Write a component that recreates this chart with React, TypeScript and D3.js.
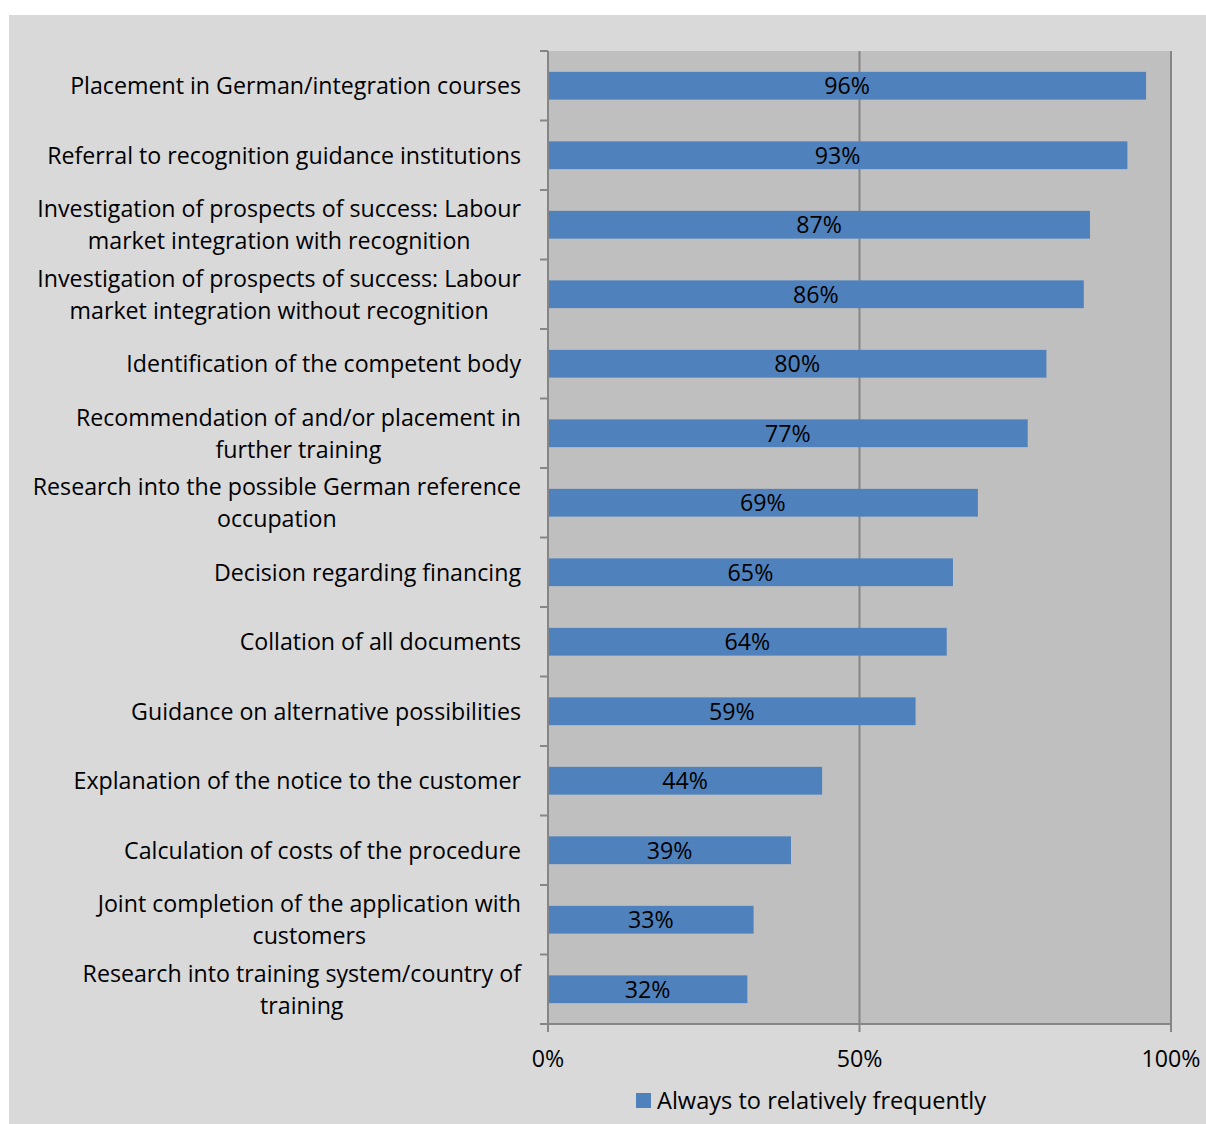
import React from "react";
import * as d3 from "d3";

const categories: string[][] = [
  ["Placement in German/integration courses"],
  ["Referral to recognition guidance institutions"],
  ["Investigation of prospects of success: Labour", "market integration with recognition"],
  ["Investigation of prospects of success: Labour", "market integration without recognition"],
  ["Identification of the competent body"],
  ["Recommendation of and/or placement in", "further training"],
  ["Research into the possible German reference", "occupation"],
  ["Decision regarding financing"],
  ["Collation of all documents"],
  ["Guidance on alternative possibilities"],
  ["Explanation of the notice to the customer"],
  ["Calculation of costs of the procedure"],
  ["Joint completion of the application with", "customers"],
  ["Research into training system/country of", "training"],
];
const values: number[] = [96, 93, 87, 86, 80, 77, 69, 65, 64, 59, 44, 39, 33, 32];
const xTicks: number[] = [0, 50, 100];
const seriesName = "Always to relatively frequently";

const W = 1206;
const H = 1124;
const FONT = "Open Sans, sans-serif";
const FS = 23.2;
const FS_LEG = 23.6;

let ctx: CanvasRenderingContext2D | null = null;
function measure(s: string): number {
  if (!ctx) ctx = document.createElement("canvas").getContext("2d");
  if (!ctx) return s.length * 11;
  ctx.font = `${FS}px "Open Sans"`;
  return ctx.measureText(s).width;
}

export default function App() {
  const plotL = 548, plotR = 1171, plotT = 51, plotB = 1024;
  const x = d3.scaleLinear().domain([0, 100]).range([plotL, plotR]);
  const idx = d3.range(categories.length).map(String);
  const y = d3.scaleBand().domain(idx).range([plotT, plotB]).paddingInner(0.6).paddingOuter(0.3);
  const band = (plotB - plotT) / categories.length;
  const axisColor = "#868686";
  const barColor = "#4f81bd";
  const labelRight = 521;
  return (
    <svg width={W} height={H} style={{ position: "absolute", left: 0, top: 0 }}>
      <rect x={0} y={0} width={W} height={H} fill="#ffffff" />
      <rect x={9} y={15} width={W - 9} height={H - 15} fill="#d9d9d9" />
      <rect x={plotL} y={plotT} width={plotR - plotL} height={plotB - plotT} fill="#bfbfbf" />
      {xTicks.slice(1).map((t) => (
        <line key={t} x1={x(t)} x2={x(t)} y1={plotT} y2={plotB} stroke={axisColor} strokeWidth={2} />
      ))}
      {values.map((v, i) => (
        <rect key={i} x={x(0)} y={y(String(i))} width={x(v) - x(0)} height={y.bandwidth()} fill={barColor} />
      ))}
      {values.map((v, i) => (
        <text
          key={"v" + i}
          x={(x(0) + x(v)) / 2}
          y={(y(String(i)) as number) + y.bandwidth() / 2}
          dy="0.36em"
          textAnchor="middle"
          fontFamily={FONT}
          fontSize={FS}
          fill="#000"
        >
          {v}%
        </text>
      ))}
      {/* left axis */}
      <line x1={plotL} x2={plotL} y1={plotT} y2={plotB + 8} stroke={axisColor} strokeWidth={2} />
      {d3.range(categories.length + 1).map((k) => (
        <line key={"lt" + k} x1={plotL - 8} x2={plotL} y1={plotT + k * band} y2={plotT + k * band} stroke={axisColor} strokeWidth={2} />
      ))}
      {/* bottom axis */}
      <line x1={plotL - 8} x2={plotR} y1={plotB} y2={plotB} stroke={axisColor} strokeWidth={2} />
      {xTicks.map((t) => (
        <g key={"bt" + t}>
          <line x1={x(t)} x2={x(t)} y1={plotB} y2={plotB + 8} stroke={axisColor} strokeWidth={2} />
          <text x={x(t)} y={1059} dy="0.36em" textAnchor="middle" fontFamily={FONT} fontSize={FS} fill="#000">
            {t}%
          </text>
        </g>
      ))}
      {categories.map((lines, i) => {
        const cy = plotT + (i + 0.5) * band;
        const lh = 32;
        const y0 = cy - ((lines.length - 1) * lh) / 2;
        const maxW = Math.max(...lines.map(measure));
        const cx = labelRight - maxW / 2;
        return (
          <text key={"c" + i} textAnchor="middle" fontFamily={FONT} fontSize={FS} fill="#000">
            {lines.map((ln, j) => (
              <tspan key={j} x={cx} y={y0 + j * lh} dy="0.36em">
                {ln}
              </tspan>
            ))}
          </text>
        );
      })}
      {/* legend */}
      <rect x={636} y={1093} width={15} height={15} fill={barColor} />
      <text x={657} y={1101} dy="0.36em" fontFamily={FONT} fontSize={FS_LEG} fill="#000">
        {seriesName}
      </text>
    </svg>
  );
}
